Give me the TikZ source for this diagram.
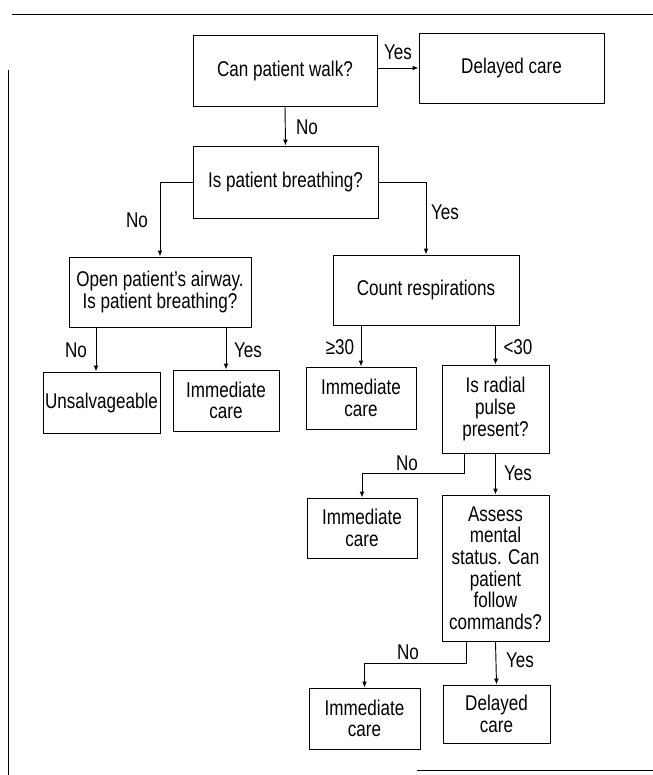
\documentclass[tikz,border=0pt]{standalone}
\usepackage{fontspec}
\setmainfont{Liberation Sans}[FakeStretch=0.8]
\usetikzlibrary{arrows.meta}
\usetikzlibrary{calc}

\begin{document}
\begin{tikzpicture}[x=0.75pt,y=-0.75pt,
  line width=0.7pt,
  >={Latex[length=4.5pt,width=3.6pt]},
  tbox/.style 2 args={draw, minimum width=#1*0.75pt, minimum height=#2*0.75pt,
    inner sep=1pt, align=center, font=\fontsize{16}{16.2}\selectfont},
  lbl/.style={inner sep=0pt, font=\fontsize{16}{16.2}\selectfont}]

\useasboundingbox (0,0) rectangle (653,775);

\draw (12,14) -- (653,14);
\draw (8,70) -- (8,775);
\draw (417,770) -- (653,770);

\node[tbox={184}{71}] (walk) at (285,70.5) {Can patient walk?};
\node[tbox={185}{70}] (delayA) at (511.5,68) {Delayed care};
\node[tbox={185}{72}] (breath) at (285.5,182) {Is patient breathing?};
\node[tbox={182}{70}] (airway) at (160,292) {Open patient's airway.\\Is patient breathing?};
\node[tbox={186}{70}] (count) at (426,290) {Count respirations};
\node[tbox={117}{61}] (unsalv) at (101.5,402.5) {Unsalvageable};
\node[tbox={106}{61}] (immA) at (226,400.5) {Immediate\\care};
\node[tbox={110}{62}] (immB) at (361,398) {Immediate\\care};
\node[tbox={107}{88}] (radial) at (495.5,409) {Is radial\\pulse\\present?};
\node[tbox={110}{60}] (immC) at (362,528) {Immediate\\care};
\node[tbox={107}{146}] (assess) at (495.5,568) {Assess\\mental\\status. Can\\patient\\follow\\commands?};
\node[tbox={111}{61}] (immD) at (364.5,718.5) {Immediate\\care};
\node[tbox={107}{58}] (delayB) at (496.5,714) {Delayed\\care};

\coordinate (unsalvIn) at ($(unsalv.north)+(-5.5,0)$);
\coordinate (radialNo) at ($(radial.south)+(-31.5,0)$);
\coordinate (assessNo) at ($(assess.south)+(-29.5,0)$);

\draw[->] (walk.east |- delayA.west) -- (delayA.west);
\draw[->] (walk.south) -- (breath.north);
\draw[->] (breath.west) -| (airway.north);
\draw[->] (breath.east) -| (count.north);
\draw[->] (unsalvIn |- airway.south) -- (unsalvIn);
\draw[->] (airway.south -| immA.north) -- (immA.north);
\draw[->] (count.south -| immB.north) -- (immB.north);
\draw[->] (count.south -| radial.north) -- (radial.north);
\draw[->] (radialNo) -- ++(0,20) -| (immC.north);
\draw[->] (radial.south) -- (assess.north);
\draw[->] (assessNo) -- ++(0,22) -| (immD.north);
\draw[->] (assess.south) -- (delayB.north);

\path
(398,52) node[lbl] (yesA) {Yes}
(307,127) node[lbl] (noA) {No}
(137,220) node[lbl] (noB) {No}
(445,212) node[lbl] (yesB) {Yes}
(76,350) node[lbl] (noC) {No}
(248,350) node[lbl] (yesC) {Yes}
(340,347) node[lbl] (geq) {≥30}
(518,347) node[lbl] (less) {<30}
(407,463) node[lbl] (noD) {No}
(518,473) node[lbl] (yesD) {Yes}
(408,652) node[lbl] (noE) {No}
(520,660) node[lbl] (yesE) {Yes};

\end{tikzpicture}
\end{document}
